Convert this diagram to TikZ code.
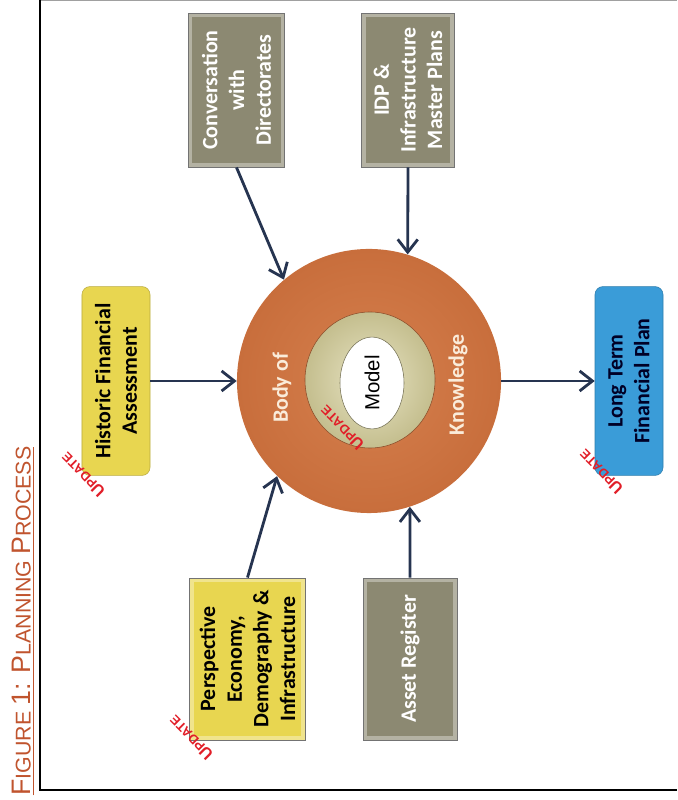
\documentclass[tikz,border=0pt]{standalone}
\usepackage{fontspec}
\setmainfont{Liberation Sans}
\newfontfamily\boxfont{Carlito}
\usetikzlibrary{arrows.meta,shapes.geometric}
\definecolor{framegray}{RGB}{160,160,160}
\definecolor{titlered}{RGB}{192,84,46}
\definecolor{arrowblue}{RGB}{38,52,80}
\definecolor{olivegray}{RGB}{140,137,114}
\definecolor{boxyellow}{RGB}{232,214,80}
\definecolor{boxblue}{RGB}{58,156,216}
\definecolor{bodyorange}{RGB}{200,110,60}
\definecolor{bodylight}{RGB}{214,128,78}
\definecolor{ringbeige}{RGB}{196,190,142}
\definecolor{ringlight}{RGB}{232,228,196}
\definecolor{updred}{RGB}{225,30,40}
\definecolor{cream}{RGB}{250,236,218}
\newcommand{\boxtext}{\boxfont\bfseries\fontsize{15.6}{19}\selectfont}
\newcommand{\capbig}{\fontsize{19}{22}\selectfont}
\newcommand{\capsmall}{\fontsize{15.2}{22}\selectfont}
\newcommand{\updlabel}{\bfseries{\fontsize{11.5}{12}\selectfont U}{\fontsize{9.2}{12}\selectfont PDATE}}
\tikzset{>={Straight Barb[length=3.2mm,width=5mm]}}
\tikzstyle{bevel}=[rectangle,rotate=90,align=center,draw=black!55,line width=0.6pt,font=\boxtext,path picture={\draw[white,opacity=0.35,line width=6pt] (path picture bounding box.south west) rectangle (path picture bounding box.north east);}]
\tikzstyle{graybox}=[bevel,fill=olivegray,text=white]
\tikzstyle{yellowbox}=[bevel,fill=boxyellow,text=black]
\tikzstyle{roundbox}=[rectangle,rotate=90,align=center,rounded corners=0.2cm,font=\boxtext,minimum width=4.72cm,minimum height=1.7cm]
\tikzstyle{flow}=[->,draw=arrowblue,line width=2pt]
\tikzstyle{update}=[text=updred,rotate=135,inner sep=0pt]

\begin{document}
\begin{tikzpicture}[x=0.025cm,y=0.025cm]
	\useasboundingbox (0,0) rectangle (677,800);
	% frame and caption
	\draw[framegray,line width=0.6pt] (40,799.3) -- (677,799.3);
	\draw[line width=1.4pt] (40,800) -- (40,10) -- (677,10);
	\node[rotate=90,text=titlered,inner sep=0pt] (title) at (23,179) {\underline{\capbig F\capsmall IGURE \capbig 1: P\capsmall LANNING \capbig P\capsmall ROCESS}};
	
	% body of knowledge
	\node[circle,minimum size=6.6cm,inner color=bodylight,outer color=bodyorange] (body) at (369,419) {};
	\node[ellipse,minimum width=3.25cm,minimum height=3.4cm,inner color=ringlight,outer color=ringbeige,draw=bodyorange!70!black,line width=0.4pt] (ring) at (370,420) {};
	\node[ellipse,rotate=90,minimum width=1.85cm,minimum height=1.6cm,fill=white,draw=ringbeige!60!black,line width=0.4pt,font=\fontsize{14.5}{16}\selectfont] (core) at (372,417) {Model};
	\node[rotate=90,text=cream,font=\boxtext] (bodyof) at (282,412) {Body of};
	\node[rotate=90,text=cream,font=\boxtext] (knowledge) at (458,415) {Knowledge};
	
	% inputs and output
	\node[graybox,minimum width=3.85cm,minimum height=2.42cm] (conv) at (236.5,710) {Conversation\\with\\Directorates};
	\node[graybox,minimum width=3.85cm,minimum height=2.33cm] (idp) at (408,710) {IDP \&\\Infrastructure\\Master Plans};
	\node[roundbox,fill=boxyellow,draw=boxyellow!80!black,text=black] (hist) at (116,419) {Historic Financial\\Assessment};
	\node[roundbox,fill=boxblue,draw=boxblue!80!black,text=black!85!blue] (plan) at (629,419) {Long Term\\Financial Plan};
	\node[yellowbox,minimum width=4.05cm,minimum height=2.88cm] (persp) at (247.5,141) {Perspective\\Economy,\\Demography \&\\Infrastructure};
	\node[graybox,minimum width=4.05cm,minimum height=2.35cm] (asset) at (410,141) {Asset Register};
	
	\draw[flow] (hist.south) -- (body.west);
	\draw[flow] (conv.west) -- (body.130);
	\draw[flow] (idp.west) -- (body.73);
	\draw[flow] (persp.east) -- (body.226);
	\draw[flow] (asset.east) -- (body.288);
	\draw[flow] (body.east) -- (plan.north);
	
	\node[update] (upd1) at (83,325) {\updlabel};
	\node[update] (upd2) at (342,372) {\updlabel};
	\node[update] (upd3) at (601,328) {\updlabel};
	\node[update] (upd4) at (191,62) {\updlabel};
\end{tikzpicture}
\end{document}
